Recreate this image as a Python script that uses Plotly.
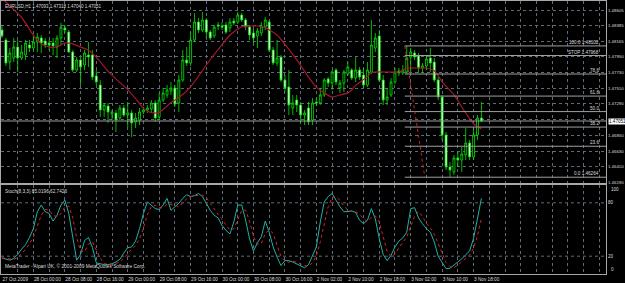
import plotly.graph_objects as go
from plotly.subplots import make_subplots
import pandas as pd

# ---------------- data ----------------
SYMBOL = "EURUSD,H1"

OPEN = [
    1.48325, 1.48185, 1.47877, 1.47933, 1.48087, 1.47933, 1.47975, 1.48115, 1.48073, 1.48157,
    1.48213, 1.48171, 1.48143, 1.48143, 1.48087, 1.48213, 1.48353, 1.48297, 1.48017, 1.47765,
    1.47905, 1.47835, 1.47975, 1.47975, 1.47681, 1.47555, 1.47205, 1.47261, 1.47149, 1.47163,
    1.47093, 1.47233, 1.47135, 1.47163, 1.47037, 1.47065, 1.47177, 1.47205, 1.47219, 1.47303,
    1.47107, 1.47345, 1.47415, 1.47471, 1.47513, 1.47303, 1.47625, 1.47905, 1.47863, 1.48185,
    1.48437, 1.48325, 1.48465, 1.48297, 1.48241, 1.48395, 1.48381, 1.48395, 1.48353, 1.48451,
    1.48437, 1.48535, 1.48465, 1.48367, 1.48283, 1.48241, 1.48283, 1.48367, 1.48437, 1.48045,
    1.47863, 1.47947, 1.47625, 1.47527, 1.47233, 1.47345, 1.47275, 1.47135, 1.47233, 1.47065,
    1.47317, 1.47303, 1.47415, 1.47639, 1.47583, 1.47765, 1.47513, 1.47583, 1.47709, 1.47765,
    1.47653, 1.47765, 1.47695, 1.47555, 1.47737, 1.48073, 1.48241, 1.47625, 1.47345, 1.47415,
    1.47597, 1.47751, 1.47723, 1.47737, 1.47947, 1.48003, 1.47961, 1.47793, 1.47821, 1.47933,
    1.47877, 1.47625, 1.47387, 1.46855, 1.46407, 1.46337, 1.46533, 1.46505, 1.46575, 1.46743,
    1.46547, 1.46855, 1.47093,
]
HIGH = [
    1.48395, 1.48213, 1.48073, 1.48213, 1.48185, 1.48115, 1.48185, 1.48185, 1.48241, 1.48283,
    1.48255, 1.48213, 1.48185, 1.48213, 1.48255, 1.48423, 1.48395, 1.48325, 1.48045, 1.47947,
    1.47933, 1.48045, 1.48157, 1.48045, 1.47765, 1.47625, 1.47303, 1.47303, 1.47205, 1.47205,
    1.47275, 1.47275, 1.47317, 1.47205, 1.47163, 1.47233, 1.47247, 1.47275, 1.47345, 1.47345,
    1.47443, 1.47513, 1.47555, 1.47597, 1.47555, 1.47695, 1.48045, 1.48087, 1.48297, 1.48563,
    1.48493, 1.48577, 1.48493, 1.48325, 1.48395, 1.48437, 1.48437, 1.48437, 1.48493, 1.48493,
    1.48577, 1.48563, 1.48493, 1.48395, 1.48353, 1.48353, 1.48437, 1.48507, 1.48465, 1.48087,
    1.48185, 1.47975, 1.47695, 1.47765, 1.47415, 1.47415, 1.47317, 1.47205, 1.47317, 1.47373,
    1.47373, 1.47513, 1.47653, 1.47667, 1.47765, 1.47793, 1.47625, 1.47765, 1.47877, 1.47793,
    1.47947, 1.47807, 1.47793, 1.47877, 1.48465, 1.48283, 1.48325, 1.47695, 1.47513, 1.47653,
    1.47793, 1.47793, 1.47835, 1.48102, 1.48073, 1.48045, 1.48003, 1.47863, 1.47975, 1.48073,
    1.47933, 1.47667, 1.47415, 1.46897, 1.46477, 1.46575, 1.46617, 1.46687, 1.46953, 1.46785,
    1.46953, 1.47135, 1.47318,
]
LOW = [
    1.48213, 1.47821, 1.47765, 1.47877, 1.47737, 1.47905, 1.47905, 1.48017, 1.48045, 1.48017,
    1.48003, 1.48073, 1.48045, 1.47975, 1.47933, 1.48115, 1.48283, 1.48003, 1.47737, 1.47737,
    1.47555, 1.47765, 1.47807, 1.47625, 1.47555, 1.47107, 1.47107, 1.47023, 1.47065, 1.46897,
    1.47065, 1.47107, 1.46967, 1.46827, 1.46953, 1.46995, 1.47149, 1.47163, 1.47177, 1.47037,
    1.47065, 1.47317, 1.47373, 1.47415, 1.47247, 1.47177, 1.47597, 1.47821, 1.47821, 1.48157,
    1.48283, 1.48297, 1.48213, 1.48185, 1.48213, 1.48325, 1.48325, 1.48269, 1.48297, 1.48395,
    1.48409, 1.48437, 1.48325, 1.48185, 1.48143, 1.48073, 1.48241, 1.48325, 1.48017, 1.47835,
    1.47821, 1.47597, 1.47457, 1.47135, 1.47135, 1.47177, 1.47023, 1.46995, 1.46995, 1.46995,
    1.47261, 1.47275, 1.47387, 1.47527, 1.47485, 1.47555, 1.47443, 1.47457, 1.47681, 1.47625,
    1.47597, 1.47625, 1.47513, 1.47527, 1.47709, 1.48017, 1.47597, 1.47275, 1.47275, 1.47387,
    1.47569, 1.47681, 1.47695, 1.47709, 1.47737, 1.47905, 1.47723, 1.47723, 1.47765, 1.47737,
    1.47597, 1.47345, 1.46785, 1.46365, 1.46264, 1.46295, 1.46407, 1.46337, 1.46505, 1.46505,
    1.46505, 1.46785, 1.47040,
]
CLOSE = [
    1.48241, 1.47863, 1.48003, 1.48087, 1.47933, 1.48017, 1.48143, 1.48073, 1.48157, 1.48227,
    1.48143, 1.48115, 1.48115, 1.48101, 1.48213, 1.48367, 1.48325, 1.48017, 1.47765, 1.47905,
    1.47807, 1.48003, 1.47947, 1.47667, 1.47597, 1.47205, 1.47275, 1.47177, 1.47177, 1.47065,
    1.47233, 1.47135, 1.47163, 1.47023, 1.47093, 1.47177, 1.47205, 1.47233, 1.47303, 1.47093,
    1.47345, 1.47443, 1.47485, 1.47513, 1.47289, 1.47625, 1.47905, 1.47863, 1.48185, 1.48437,
    1.48325, 1.48465, 1.48297, 1.48213, 1.48367, 1.48381, 1.48367, 1.48297, 1.48437, 1.48423,
    1.48535, 1.48465, 1.48367, 1.48255, 1.48213, 1.48311, 1.48381, 1.48465, 1.48045, 1.47863,
    1.47933, 1.47625, 1.47513, 1.47275, 1.47303, 1.47275, 1.47135, 1.47163, 1.47037, 1.47303,
    1.47303, 1.47415, 1.47625, 1.47583, 1.47737, 1.47597, 1.47583, 1.47737, 1.47807, 1.47653,
    1.47765, 1.47667, 1.47555, 1.47765, 1.48115, 1.48213, 1.47625, 1.47345, 1.47387, 1.47597,
    1.47737, 1.47723, 1.47765, 1.47933, 1.48017, 1.47947, 1.47793, 1.47821, 1.47919, 1.47863,
    1.47625, 1.47387, 1.46855, 1.46407, 1.46365, 1.46533, 1.46505, 1.46589, 1.46743, 1.46547,
    1.46855, 1.47093, 1.47051,
]

# moving average (red line), read at selected bars
MA_BARS = [0, 1, 5, 8, 10, 12, 14, 16, 18, 20, 22, 24, 27, 29, 32, 34, 36, 38, 40, 43,
           45, 48, 50, 53, 56, 58, 61, 63, 65, 67, 70, 73, 75, 78, 80, 83, 84, 86, 88, 89,
           90, 93, 94, 98, 101, 103, 106, 108, 110, 112, 115, 117, 120, 122]
MA_VALUES = [1.48787, 1.48717, 1.48500, 1.48250, 1.48130, 1.48090, 1.48087, 1.48143, 1.48130, 1.48085,
             1.48043, 1.47945, 1.47745, 1.47640, 1.47490, 1.47365, 1.47228, 1.47168, 1.47172, 1.47310,
             1.47380, 1.47530, 1.47680, 1.47912, 1.48120, 1.48255, 1.48370, 1.48381, 1.48381, 1.48358,
             1.48255, 1.48055, 1.47910, 1.47665, 1.47525, 1.47410, 1.47387, 1.47415, 1.47445, 1.47485,
             1.47550, 1.47672, 1.47730, 1.47737, 1.47737, 1.47790, 1.47793, 1.47793, 1.47755, 1.47600,
             1.47420, 1.47247, 1.47010, 1.46940]

# Stochastic %K (one value per bar)
STOCH_PARAMS = "8,3,3"
STOCH_K = [
    18, 16.5, 15.5, 17.5, 22, 28, 33, 41, 51, 70,
    77.5, 70, 68, 59.5, 66, 77.5, 83, 68, 39.5, 15.5,
    22, 37.5, 41, 30, 12.5, 11.5, 10.5, 10.5, 11.5, 13.5,
    16.5, 23.5, 29.5, 30.5, 37, 51, 68, 81, 77.5, 73.5,
    72.5, 77.5, 85, 71.5, 75.5, 79.5, 85, 89, 87, 88,
    90.5, 87, 79.5, 71.5, 66, 63, 54.5, 49, 45, 58.5,
    77.5, 77.5, 60.5, 39.5, 26, 35, 42, 59.5, 47, 30.5,
    19, 9.5, 15, 15, 13.5, 11.5, 9.5, 7, 10.5, 20,
    30.5, 58.5, 81, 87, 90.5, 83, 75.5, 70, 70, 71,
    69, 60.5, 56.5, 60.5, 73.5, 62, 39.5, 22, 15, 21,
    30.5, 37, 40.5, 47, 73.5, 74.5, 63, 56.5, 51, 47,
    36, 20, 12.5, 6, 6.5, 9.5, 13.5, 17, 21, 26,
    40, 63.2082, 85.0196,
]
STOCH_LEVELS = [20, 80]

# Fibonacci retracement
FIB_HIGH = 1.48102
FIB_LOW = 1.46264
FIB_STOP = 1.47968
FIB_LEVELS = [0.0, 23.6, 38.2, 50.0, 61.8, 78.6, 100.0]
FIB_BARS = [102.5, 107.6]

# axes
TIME_LABELS = ["27 Oct 2009", "28 Oct 00:00", "28 Oct 08:00", "28 Oct 16:00", "29 Oct 00:00",
               "29 Oct 08:00", "29 Oct 16:00", "30 Oct 00:00", "30 Oct 08:00", "30 Oct 16:00",
               "2 Nov 02:00", "2 Nov 10:00", "2 Nov 18:00", "3 Nov 02:00", "3 Nov 10:00",
               "3 Nov 18:00"]
LABEL_EVERY = 8
GRID_EVERY = 4
PRICE_TICKS = ["1.48605", "1.48385", "1.48165", "1.47950", "1.47730", "1.47510",
               "1.47290", "1.47070", "1.46850", "1.46630", "1.46410", "1.46190"]
X_RANGE = [-0.25, 153.7]
PRICE_RANGE = [1.46183, 1.48731]
STOCH_RANGE = [0, 100]
FOOTER = "MetaTrader - Alpari UK, \u00a9 2001-2009 MetaQuotes Software Corp."

# ---------------- styles ----------------
GREEN = "#00e600"
GRID = "#5f6b78"
FRAME = "#a8a8a8"
TEXT = "#dcdcdc"
FONT = "Liberation Sans, Arial, sans-serif"

N = len(CLOSE)
BARS = list(range(N))
K = pd.Series(STOCH_K, dtype=float)
D = K.rolling(3, min_periods=1).mean()
last = CLOSE[-1]

fig = make_subplots(rows=2, cols=1, shared_xaxes=True, vertical_spacing=0.0)

fig.add_trace(go.Candlestick(
    x=BARS, open=OPEN, high=HIGH, low=LOW, close=CLOSE,
    increasing=dict(line=dict(color=GREEN, width=0.8), fillcolor="#000000"),
    decreasing=dict(line=dict(color=GREEN, width=0.8), fillcolor="#ffffff"),
    whiskerwidth=0, hoverinfo="skip", showlegend=False), row=1, col=1)

fig.add_trace(go.Scatter(x=MA_BARS, y=MA_VALUES, mode="lines",
                         line=dict(color="#a3172c", width=1.2, shape="spline", smoothing=0.6),
                         hoverinfo="skip", showlegend=False), row=1, col=1)

# fib levels
fib_range = FIB_HIGH - FIB_LOW
for lvl in FIB_LEVELS:
    price = FIB_LOW + lvl / 100.0 * fib_range
    fig.add_trace(go.Scatter(x=[FIB_BARS[0], X_RANGE[1]], y=[price, price], mode="lines",
                             line=dict(color="#a0a0a0", width=1), hoverinfo="skip",
                             showlegend=False), row=1, col=1)
    txt = f"{lvl:.1f} {price:.5f}" if lvl in (0.0, 100.0) else f"{lvl:.1f}"
    fig.add_annotation(x=0.992, xref="paper", y=price, yref="y", text=txt, showarrow=False,
                       xanchor="right", yanchor="bottom", yshift=-1,
                       font=dict(size=4.6, color=TEXT, family=FONT))
fig.add_trace(go.Scatter(x=[FIB_BARS[0], X_RANGE[1]], y=[FIB_STOP, FIB_STOP], mode="lines",
                         line=dict(color="#a0a0a0", width=1), hoverinfo="skip",
                         showlegend=False), row=1, col=1)
fig.add_annotation(x=0.992, xref="paper", y=FIB_STOP, yref="y", text=f"STOP {FIB_STOP:.5f}",
                   showarrow=False, xanchor="right", yanchor="bottom", yshift=-1,
                   font=dict(size=4.6, color=TEXT, family=FONT))
fig.add_trace(go.Scatter(x=FIB_BARS, y=[FIB_HIGH, FIB_LOW], mode="lines",
                         line=dict(color="#d42020", width=1, dash="dot"), hoverinfo="skip",
                         showlegend=False), row=1, col=1)

# stochastic
fig.add_trace(go.Scatter(x=BARS, y=K, mode="lines", line=dict(color="#20b2aa", width=1),
                         hoverinfo="skip", showlegend=False), row=2, col=1)
fig.add_trace(go.Scatter(x=BARS, y=D, mode="lines", line=dict(color="#e02020", width=1, dash="dot"),
                         hoverinfo="skip", showlegend=False), row=2, col=1)

# bid line
fig.add_shape(type="line", xref="x domain", yref="y", x0=0, x1=1, y0=last, y1=last,
              line=dict(color="#9c9c9c", width=1))
fig.add_annotation(x=1, xref="paper", y=last, yref="y", text=f"{last:.5f}", showarrow=False,
                   xanchor="left", xshift=2, bgcolor="#ffffff", borderpad=0,
                   font=dict(size=4.6, color="#000000", family=FONT))

# texts
fig.add_annotation(x=0.003, xref="paper", y=1, yref="y domain", yanchor="top", xanchor="left",
                   yshift=-1, showarrow=False,
                   text=f"{SYMBOL} {OPEN[-1]:.5f} {HIGH[-1]:.5f} {LOW[-1]:.5f} {CLOSE[-1]:.5f}",
                   font=dict(size=4.5, color=TEXT, family=FONT))
fig.add_annotation(x=0.003, xref="paper", y=1, yref="y2 domain", yanchor="top", xanchor="left",
                   yshift=-2, showarrow=False,
                   text=f"Stoch({STOCH_PARAMS}) {K.iloc[-1]:.4f} {D.iloc[-1]:.4f}",
                   font=dict(size=4.7, color=TEXT, family=FONT))
fig.add_annotation(x=0.003, xref="paper", y=0, yref="y2 domain", yanchor="bottom", xanchor="left",
                   yshift=3, showarrow=False, text=FOOTER,
                   font=dict(size=4.8, color=TEXT, family=FONT))
fig.add_annotation(x=1, xref="paper", y=1, yref="y2 domain", yanchor="top", xanchor="left",
                   xshift=3, showarrow=False, text=str(STOCH_RANGE[1]),
                   font=dict(size=4.6, color=TEXT, family=FONT))
fig.add_annotation(x=1, xref="paper", y=0, yref="y2 domain", yanchor="bottom", xanchor="left",
                   xshift=3, showarrow=False, text=str(STOCH_RANGE[0]),
                   font=dict(size=4.6, color=TEXT, family=FONT))

# stoch levels
for lv in STOCH_LEVELS:
    fig.add_shape(type="line", xref="x2 domain", yref="y2", x0=0, x1=1, y0=lv, y1=lv,
                  line=dict(color=GRID, width=1, dash="dot"))

grid_bars = list(range(0, int(X_RANGE[1]) + 1, GRID_EVERY))
tick_text = []
for b in grid_bars:
    k = b // LABEL_EVERY
    tick_text.append(TIME_LABELS[k] if b % LABEL_EVERY == 0 and k < len(TIME_LABELS) else "")

# price-axis labels: the one hidden under the bid box is left blank
price_vals = [float(t) for t in PRICE_TICKS]
bid_gap = min(abs(v - last) for v in price_vals)
price_text = ["" if abs(v - last) == bid_gap else t for v, t in zip(price_vals, PRICE_TICKS)]

axis_common = dict(showline=True, linecolor=FRAME, linewidth=1, mirror=True, zeroline=False,
                   ticks="", fixedrange=True)
fig.update_layout(
    width=625, height=283, margin=dict(l=1, r=19, t=1, b=9),
    paper_bgcolor="#000000", plot_bgcolor="#000000", showlegend=False,
    font=dict(family=FONT, size=4.6, color=TEXT),
    xaxis=dict(range=X_RANGE, tickvals=grid_bars, showticklabels=False, showgrid=True,
               gridcolor=GRID, griddash="dot", gridwidth=1, rangeslider=dict(visible=False),
               **axis_common),
    xaxis2=dict(range=X_RANGE, tickvals=grid_bars, ticktext=tick_text, showticklabels=True,
                tickangle=0, ticklabelposition="outside right", showgrid=True, gridcolor=GRID,
                griddash="dot", gridwidth=1, tickfont=dict(size=4.7, color=TEXT, family=FONT),
                **axis_common),
    yaxis=dict(domain=[0.3333, 1], range=PRICE_RANGE, side="right",
               tickvals=price_vals, ticktext=price_text,
               showgrid=True, gridcolor=GRID, griddash="dot", gridwidth=1,
               tickfont=dict(size=4.4, color=TEXT, family=FONT), **axis_common),
    yaxis2=dict(domain=[0, 0.326], range=STOCH_RANGE, side="right",
                tickvals=STOCH_LEVELS, ticktext=[str(v) for v in STOCH_LEVELS], showgrid=False,
                tickfont=dict(size=4.6, color=TEXT, family=FONT), **axis_common),
)

fig.write_html("out.html")
